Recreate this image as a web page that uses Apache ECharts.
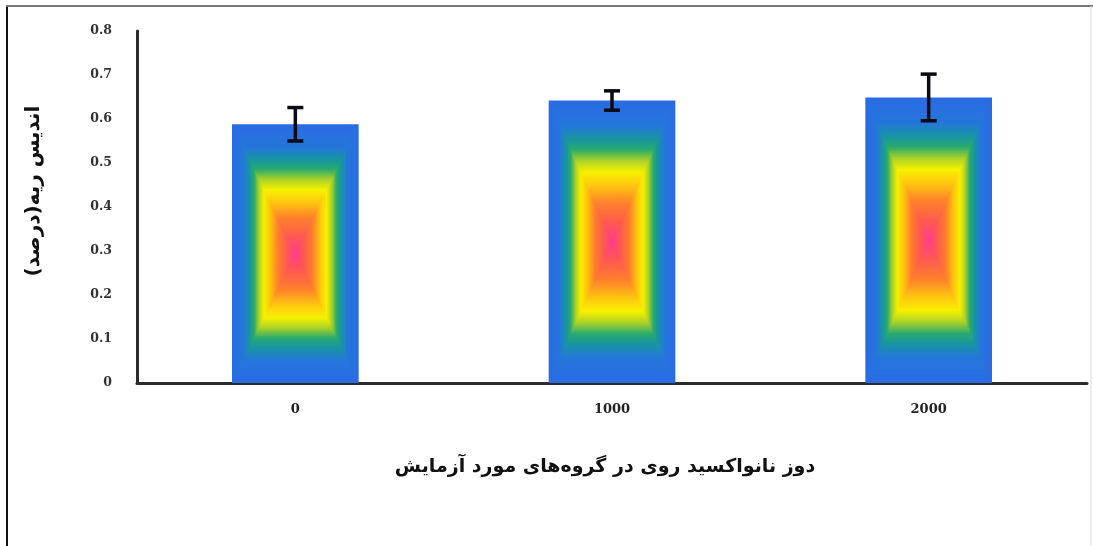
<!DOCTYPE html>
<html>
<head>
<meta charset="utf-8">
<script src="https://cdn.jsdelivr.net/npm/echarts@6/dist/echarts.min.js"></script>
<style>
html,body{margin:0;padding:0;background:#fff;}
#chart{width:1093px;height:546px;}
</style>
</head>
<body>
<div id="chart"></div>
<script>
// ---- data ----
var categories = ['0', '1000', '2000'];
var means = [0.588, 0.642, 0.649];
var errors = [0.038, 0.022, 0.053];
var yTicks = { min: 0, max: 0.8, interval: 0.1 };
var xTitle = 'دوز نانواکسید روی در گروه‌های مورد آزمایش';
var yTitle = 'اندیس ریه(درصد)';

// path-gradient colour stops: edge (0) -> centre (1)
var stops = [
  [0.00, [42, 108, 228]],
  [0.17, [38, 118, 220]],
  [0.27, [24, 150, 160]],
  [0.34, [40, 170, 110]],
  [0.42, [170, 210, 40]],
  [0.50, [246, 240, 0]],
  [0.60, [255, 196, 16]],
  [0.72, [255, 128, 44]],
  [0.86, [255, 90, 80]],
  [1.00, [255, 58, 146]]
];
function colorAt(t) {
  for (var i = 1; i < stops.length; i++) {
    if (t <= stops[i][0]) {
      var a = stops[i - 1], b = stops[i];
      var f = (t - a[0]) / (b[0] - a[0]);
      var c = a[1].map(function (v, k) { return Math.round(v + (b[1][k] - v) * f); });
      return 'rgb(' + c.join(',') + ')';
    }
  }
  return 'rgb(' + stops[stops.length - 1][1].join(',') + ')';
}

var barData = categories.map(function (c, i) { return [i, means[i]]; });
var errData = categories.map(function (c, i) { return [i, means[i] - errors[i], means[i] + errors[i]]; });

var chart = echarts.init(document.getElementById('chart'));
var LAYERS = 80;

chart.setOption({
  animation: false,
  backgroundColor: '#fff',
  grid: { left: 137, right: 6, top: 31, bottom: 163, containLabel: false },
  xAxis: {
    type: 'category',
    data: categories,
    axisLine: { lineStyle: { color: '#2b2b2b', width: 3 } },
    axisTick: { show: false },
    axisLabel: { margin: 20, color: '#222', fontFamily: 'DejaVu Serif', fontWeight: 'bold', fontSize: 13 },
    splitLine: { show: false }
  },
  yAxis: {
    type: 'value',
    min: yTicks.min, max: yTicks.max, interval: yTicks.interval,
    axisLine: { show: true, lineStyle: { color: '#2b2b2b', width: 3 } },
    axisTick: { show: false },
    splitLine: { show: false },
    axisLabel: { margin: 25, color: '#333', fontFamily: 'DejaVu Serif', fontWeight: 'bold', fontSize: 12.5 }
  },
  graphic: [
    { type: 'line', shape: { x1: 7, y1: 5, x2: 7, y2: 546 }, style: { stroke: '#111', lineWidth: 2 }, silent: true },
    { type: 'line', shape: { x1: 6, y1: 6, x2: 1093, y2: 6 }, style: { stroke: '#777', lineWidth: 2 }, silent: true },
    { type: 'line', shape: { x1: 1091, y1: 6, x2: 1091, y2: 546 }, style: { stroke: '#ddd', lineWidth: 1 }, silent: true },
    { type: 'text', x: 605, y: 467, silent: true,
      style: { text: xTitle, align: 'center', verticalAlign: 'middle',
               font: 'bold 19px "DejaVu Sans"', fill: '#111' } },
    { type: 'text', x: 34, y: 191, rotation: Math.PI / 2, silent: true,
      style: { text: yTitle, align: 'center', verticalAlign: 'middle',
               font: 'bold 20px "DejaVu Sans"', fill: '#111' } }
  ],
  series: [
    {
      type: 'custom',
      data: barData,
      encode: { x: 0, y: 1 },
      z: 2,
      renderItem: function (params, api) {
        var top = api.coord([api.value(0), api.value(1)]);
        var bot = api.coord([api.value(0), 0]);
        var bw = api.size([1, 0])[0] * 0.4;
        var x0 = top[0] - bw / 2, y0 = top[1], w = bw, h = bot[1] - top[1];
        var cx = x0 + w / 2, cy = y0 + h / 2;
        var children = [];
        for (var k = 0; k < LAYERS; k++) {
          var t = k / LAYERS;
          var s = 1 - t;
          children.push({
            type: 'rect',
            shape: { x: cx - s * w / 2, y: cy - s * h / 2, width: s * w, height: s * h },
            style: { fill: colorAt(t) }
          });
        }
        return { type: 'group', children: children };
      }
    },
    {
      type: 'custom',
      data: errData,
      encode: { x: 0, y: [1, 2] },
      z: 3,
      renderItem: function (params, api) {
        var lo = api.coord([api.value(0), api.value(1)]);
        var hi = api.coord([api.value(0), api.value(2)]);
        var cap = 8;
        var st = { stroke: '#0a0a14', lineWidth: 3.5 };
        return {
          type: 'group',
          children: [
            { type: 'line', shape: { x1: hi[0], y1: hi[1], x2: lo[0], y2: lo[1] }, style: st },
            { type: 'line', shape: { x1: hi[0] - cap, y1: hi[1], x2: hi[0] + cap, y2: hi[1] }, style: st },
            { type: 'line', shape: { x1: lo[0] - cap, y1: lo[1], x2: lo[0] + cap, y2: lo[1] }, style: st }
          ]
        };
      }
    }
  ]
});
</script>
</body>
</html>
